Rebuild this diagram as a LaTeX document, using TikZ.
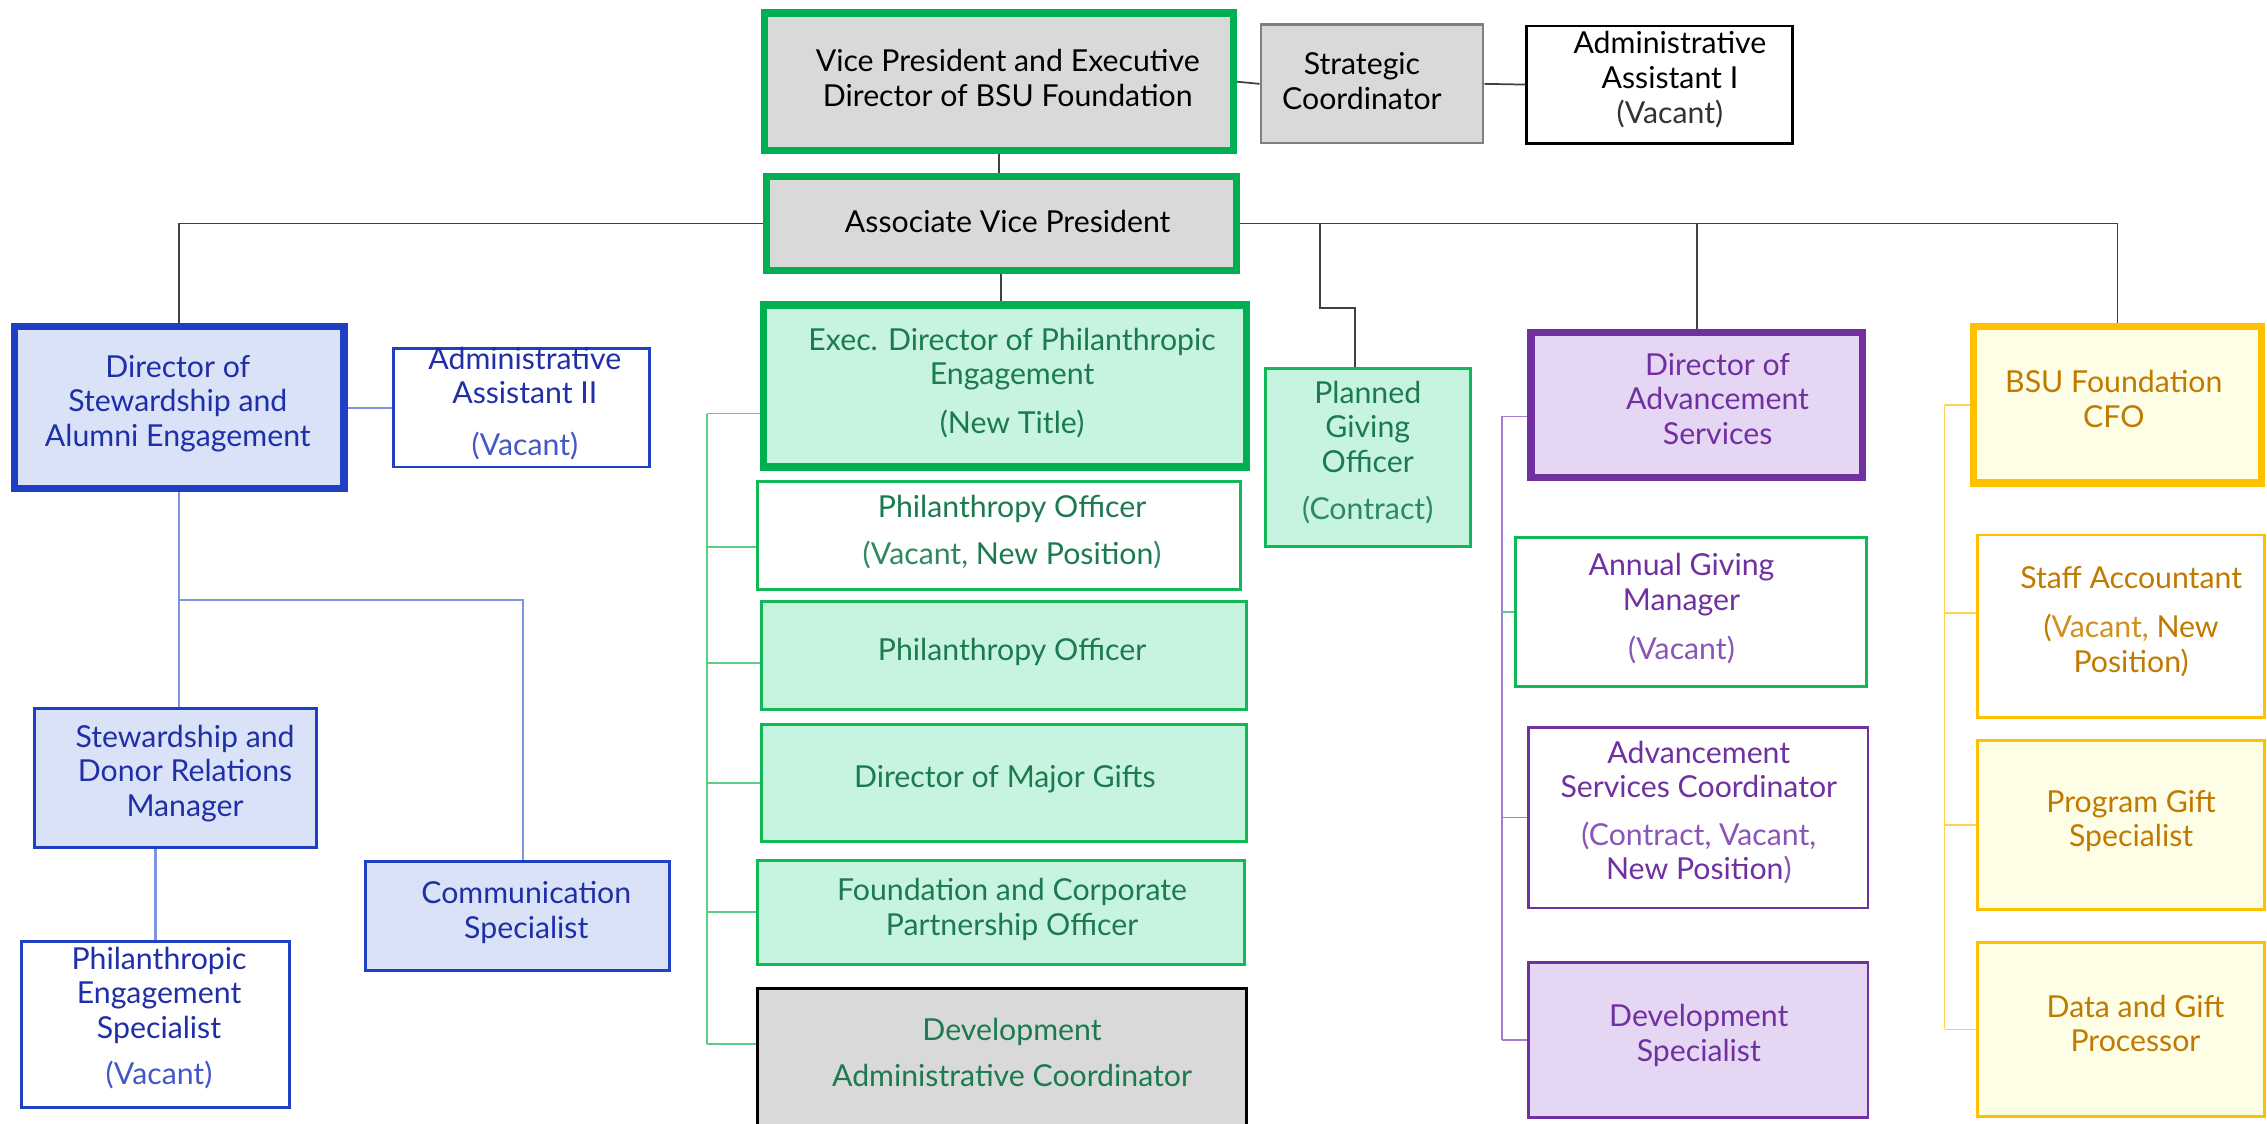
\documentclass[tikz,border=0pt]{standalone}
\usepackage{fontspec}
\setmainfont{Lato}
\usetikzlibrary{calc}
\definecolor{gthick}{HTML}{00B050}
\definecolor{gB}{HTML}{10B856}
\definecolor{gT}{HTML}{1B7A4E}
\definecolor{gTl}{HTML}{2E8A5E}
\definecolor{mint}{HTML}{C7F3E1}
\definecolor{grayfill}{HTML}{D9D9D9}
\definecolor{grayB}{HTML}{7F7F7F}
\definecolor{blueB}{HTML}{1F3FC4}
\definecolor{blueT}{HTML}{1F2FA8}
\definecolor{blueTl}{HTML}{4457C8}
\definecolor{bluefill}{HTML}{DAE2F8}
\definecolor{purB}{HTML}{7030A0}
\definecolor{purT}{HTML}{7030A0}
\definecolor{purTl}{HTML}{8A55B8}
\definecolor{lav}{HTML}{E5D6F3}
\definecolor{yelB}{HTML}{FFC000}
\definecolor{yelT}{HTML}{C07A00}
\definecolor{yelTl}{HTML}{D08F20}
\definecolor{ltyel}{HTML}{FEFDE6}
\definecolor{connK}{HTML}{404040}
\definecolor{connB}{HTML}{7F94E0}
\definecolor{connG}{HTML}{5ACF88}
\definecolor{connP}{HTML}{A57DD0}
\definecolor{connY}{HTML}{FFD24D}
\tikzset{
  base/.style={rectangle, inner sep=0pt},
  txtbase/.style={align=center, inner sep=0pt, font=\fontsize{21}{24}\selectfont},
  vpbox/.style={base, draw=gthick, line width=5bp, fill=grayfill},
  vptxt/.style={txtbase, text=black},
  sgbox/.style={base, draw=grayB, line width=1.5bp, fill=grayfill},
  sgtxt/.style={txtbase, text=black},
  wkbox/.style={base, draw=black, line width=2bp, fill=white},
  wktxt/.style={txtbase, text=black},
  bthickbox/.style={base, draw=blueB, line width=5bp, fill=bluefill},
  bthicktxt/.style={txtbase, text=blueT},
  bwhitebox/.style={base, draw=blueB, line width=2bp, fill=white},
  bwhitetxt/.style={txtbase, text=blueT},
  bfillbox/.style={base, draw=blueB, line width=2bp, fill=bluefill},
  bfilltxt/.style={txtbase, text=blueT},
  gthickbox/.style={base, draw=gthick, line width=5bp, fill=mint},
  gthicktxt/.style={txtbase, text=gT},
  gwhitebox/.style={base, draw=gB, line width=2bp, fill=white},
  gwhitetxt/.style={txtbase, text=gT},
  gfillbox/.style={base, draw=gB, line width=2bp, fill=mint},
  gfilltxt/.style={txtbase, text=gT},
  dacbox/.style={base, draw=black, line width=2bp, fill=grayfill},
  dactxt/.style={txtbase, text=gT},
  pthickbox/.style={base, draw=purB, line width=5bp, fill=lav},
  pthicktxt/.style={txtbase, text=purT},
  gpwbox/.style={base, draw=gB, line width=2bp, fill=white},
  gpwtxt/.style={txtbase, text=purT},
  pwhitebox/.style={base, draw=purB, line width=2bp, fill=white},
  pwhitetxt/.style={txtbase, text=purT},
  pfillbox/.style={base, draw=purB, line width=2bp, fill=lav},
  pfilltxt/.style={txtbase, text=purT},
  ythickbox/.style={base, draw=yelB, line width=5bp, fill=ltyel},
  ythicktxt/.style={txtbase, text=yelT},
  ywhitebox/.style={base, draw=yelB, line width=2bp, fill=white},
  ywhitetxt/.style={txtbase, text=yelT},
  yfillbox/.style={base, draw=yelB, line width=2bp, fill=ltyel},
  yfilltxt/.style={txtbase, text=yelT},
  ck/.style={draw=connK, line width=1.2bp},
  cb/.style={draw=connB, line width=1.5bp},
  cg/.style={draw=connG, line width=1.2bp},
  cp/.style={draw=connP, line width=1.2bp},
  cy/.style={draw=connY, line width=1.2bp},
}
\newcommand\orgbox[9]{%
  \node[#2box, minimum width={(#5-#3)*1bp}, minimum height={(#6-#4)*1bp}] (#1) at ({(#3+#5)/2},{(#4+#6)/2}) {};
  \node[#2txt] (#1t) at (#7,#8) {#9};
}
\begin{document}
\begin{tikzpicture}[x=1bp, y=-1bp]
\useasboundingbox (0,0) rectangle (1568,777);
\begin{scope}
\clip (0,0) rectangle (1568,777);
\fill[white] (0,0) rectangle (1568,777);

% top
\orgbox{vp}{vp}{529}{9}{853}{104}{697}{54}{Vice President and Executive\\Director of BSU Foundation}
\orgbox{sc}{sg}{872}{17}{1026}{99}{942}{56}{Strategic\\Coordinator}
\orgbox{aa1}{wk}{1056}{18}{1240}{99}{1155}{55}{Administrative\\Assistant I\\{\color{black!80}(Vacant)}}
\orgbox{avp}{vp}{530}{122}{855}{187}{697}{153}{Associate Vice President}

% blue
\orgbox{dsae}{bthick}{10}{226}{238}{338}{123}{279}{Director of\\Stewardship and\\Alumni Engagement}
\orgbox{aa2}{bwhite}{272}{241}{449}{323}{363}{279}{Administrative\\Assistant II\\[12bp]{\color{blueTl}(Vacant)}}
\orgbox{sdrm}{bfill}{24}{490}{219}{586}{128}{535}{Stewardship and\\Donor Relations\\Manager}
\orgbox{pes}{bwhite}{15}{651}{200}{766}{110}{704}{Philanthropic\\Engagement\\Specialist\\[8bp]{\color{blueTl}(Vacant)}}
\orgbox{comm}{bfill}{253}{596}{463}{671}{364}{631}{Communication\\Specialist}

% green
\orgbox{exec}{gthick}{528}{211}{862}{323}{700}{265}{Exec. Director of Philanthropic\\Engagement\\[10bp](New Title)}
\orgbox{po1}{gwhite}{524}{333}{858}{408}{700}{368}{Philanthropy Officer\\[8bp]{\color{gTl}(Vacant,} New Position{\color{gTl})}}
\orgbox{po2}{gfill}{527}{416}{862}{491}{700}{451}{Philanthropy Officer}
\orgbox{dmg}{gfill}{527}{501}{862}{582}{695}{539}{Director of Major Gifts}
\orgbox{fcpo}{gfill}{524}{595}{861}{667}{700}{629}{Foundation and Corporate\\Partnership Officer}
\orgbox{dac}{dac}{524}{684}{862}{800}{700}{728}{Development\\[8bp]Administrative Coordinator}
\orgbox{pgo}{gfill}{875}{255}{1017}{378}{946}{313}{Planned\\Giving\\Officer\\[9bp]{\color{gTl}(Contract)}}

% purple
\orgbox{das}{pthick}{1059}{230}{1288}{330}{1188}{276}{Director of\\Advancement\\Services}
\orgbox{agm}{gpw}{1048}{372}{1291}{475}{1163}{421}{Annual Giving\\Manager\\[10bp]{\color{purTl}(Vacant)}}
\orgbox{asc}{pwhite}{1057}{503}{1292}{628}{1175}{562}{Advancement\\Services Coordinator\\[9bp]{\color{purTl}(Contract, Vacant,}\\New Position{\color{purTl})}}
\orgbox{ds}{pfill}{1057}{666}{1292}{773}{1175}{716}{Development\\Specialist}

% yellow
\orgbox{cfo}{ythick}{1365}{226}{1564}{334}{1462}{276}{BSU Foundation\\CFO}
\orgbox{sa}{ywhite}{1368}{370}{1566}{496}{1474}{430}{Staff Accountant\\[10bp]({\color{yelTl}Vacant,} New\\Position)}
\orgbox{pgs}{yfill}{1368}{512}{1566}{629}{1474}{568}{Program Gift\\Specialist}
\orgbox{dgp}{yfill}{1368}{652}{1566}{772}{1477}{708}{Data and Gift\\Processor}

% black connectors
\draw[ck] (vp.east) -- (sc.west);
\draw[ck] (sc.east) -- (aa1.west);
\draw[ck] (vp.south) -- (vp.south |- avp.north);
\draw[ck] (avp.south) -- (avp.south |- exec.north);
\draw[ck] (avp.west) -| (dsae.north);
\draw[ck] (avp.east) -| (cfo.north);
\draw[ck] (das.north) -- (das.north |- avp.east);
\coordinate (j1) at (913,213);
\coordinate (j2) at (937,213);
\draw[ck] (j1 |- avp.east) -- (j1) -- (j2) -- (j2 |- pgo.north);

% blue connectors
\draw[cb] (dsae.east) -- (aa2.west);
\draw[cb] (dsae.south) -- (dsae.south |- sdrm.north);
\coordinate (b1) at (123,415);
\coordinate (b2) at (362,415);
\draw[cb] (b1) -- (b2) -- (b2 |- comm.north);
\draw[cb] (pes.north |- sdrm.south) -- (pes.north);

% green bracket
\coordinate (gx) at (489,0);
\coordinate (ge) at ($(exec.west)+(0,19)$);
\coordinate (gd) at ($(dac.west)+(0,-20)$);
\draw[cg] (gx |- ge) -- (gx |- gd);
\draw[cg] (gx |- ge) -- (ge);
\draw[cg] ($(gx |- po1.west)+(0,8)$) -- ($(po1.west)+(0,8)$);
\draw[cg] ($(gx |- po2.west)+(0,5)$) -- ($(po2.west)+(0,5)$);
\draw[cg] (gx |- dmg.west) -- (dmg.west);
\draw[cg] (gx |- fcpo.west) -- (fcpo.west);
\draw[cg] (gx |- gd) -- (gd);

% purple bracket
\coordinate (px) at (1039,0);
\coordinate (pa) at ($(das.west)+(0,8)$);
\draw[cp] (px |- pa) -- (px |- ds.west);
\draw[cp] (px |- pa) -- (pa);
\draw[cg] (px |- agm.west) -- (agm.west);
\draw[cp] (px |- asc.west) -- (asc.west);
\draw[cp] (px |- ds.west) -- (ds.west);

% yellow bracket
\coordinate (yx) at (1345,0);
\coordinate (ya) at ($(sa.west)+(0,-9)$);
\draw[cy] (yx |- cfo.west) -- (yx |- dgp.west);
\draw[cy] (yx |- cfo.west) -- (cfo.west);
\draw[cy] (yx |- ya) -- (ya);
\draw[cy] (yx |- pgs.west) -- (pgs.west);
\draw[cy] (yx |- dgp.west) -- (dgp.west);
\end{scope}
\end{tikzpicture}
\end{document}
